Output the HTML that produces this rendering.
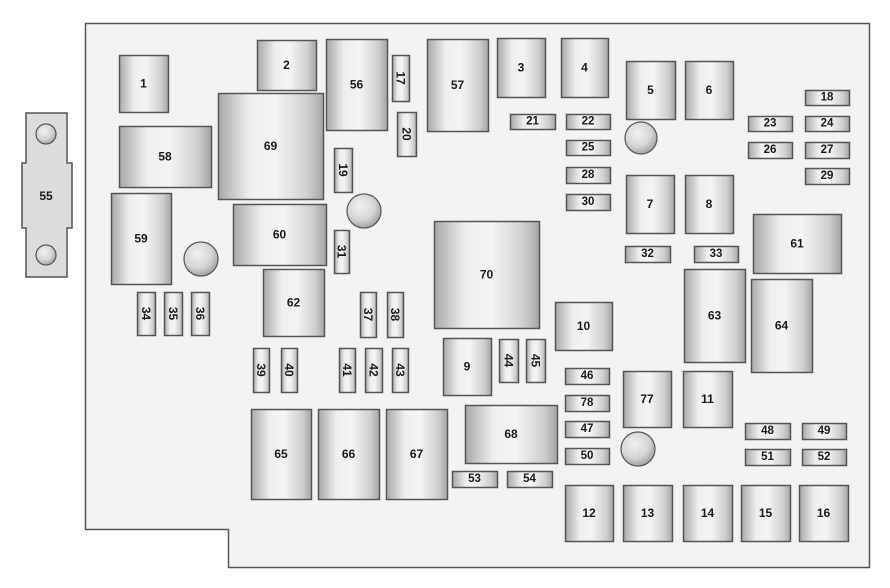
<!DOCTYPE html>
<html><head><meta charset="utf-8"><style>
html,body{margin:0;padding:0;background:#fff;}
svg{display:block;}
text{font-family:"Liberation Sans",sans-serif;font-weight:bold;font-size:12px;fill:#1a1a1a;}
</style></head><body>
<svg width="890" height="588" viewBox="0 0 890 588" xmlns="http://www.w3.org/2000/svg">
<defs>
<linearGradient id="g" x1="0" x2="1" y1="0" y2="0">
<stop offset="0" stop-color="#a9a9a9"/><stop offset="0.3" stop-color="#efefef"/><stop offset="0.55" stop-color="#f4f4f4"/><stop offset="0.85" stop-color="#cfcfcf"/><stop offset="1" stop-color="#a4a4a4"/>
</linearGradient>
<linearGradient id="gv" x1="0" x2="0" y1="0" y2="1">
<stop offset="0" stop-color="#a9a9a9"/><stop offset="0.3" stop-color="#efefef"/><stop offset="0.55" stop-color="#f4f4f4"/><stop offset="0.85" stop-color="#cfcfcf"/><stop offset="1" stop-color="#a4a4a4"/>
</linearGradient>
<radialGradient id="c" cx="0.4" cy="0.35" r="0.7">
<stop offset="0" stop-color="#f2f2f2"/><stop offset="0.6" stop-color="#d4d4d4"/><stop offset="1" stop-color="#9a9a9a"/>
</radialGradient>
</defs>
<path d="M85.5 23.5 H869.5 V567.5 H228.5 V529.5 H85.5 Z" fill="#f3f3f3" stroke="#555" stroke-width="1.5"/>
<!-- fuse 55 -->
<path d="M26 113 H67 V163 H72 V228 H67 V277 H26 V228 H22 V163 H26 Z" fill="#dcdcdc" stroke="#555" stroke-width="1.5"/>
<circle cx="46" cy="134" r="10" fill="url(#c)" stroke="#555" stroke-width="1.2"/>
<circle cx="46" cy="255" r="10" fill="url(#c)" stroke="#555" stroke-width="1.2"/>
<text x="46" y="200" text-anchor="middle">55</text>
<g stroke="#555" stroke-width="1.2" fill="url(#c)">
<circle cx="201" cy="259" r="17"/><circle cx="364" cy="211" r="17"/><circle cx="641" cy="138" r="16"/><circle cx="638" cy="449" r="17"/>
</g>
<g id="boxes"></g>
<script>
var R=[
[119,55,49,57,"1"],[119,126,92,61,"58"],[218,93,105,106,"69"],[111,193,60,91,"59"],[233,204,93,61,"60"],
[257,40,59,50,"2"],[326,39,61,91,"56"],[392,55,17,46,"17",1],[427,39,61,92,"57"],[497,38,48,59,"3"],
[510,114,45,15,"21"],[397,112,19,44,"20",1],[334,148,18,44,"19",1],[334,230,15,43,"31",1],
[561,38,47,59,"4"],[626,61,49,58,"5"],[685,61,48,58,"6"],[566,114,44,15,"22"],[566,140,44,15,"25"],
[566,167,44,16,"28"],[566,194,44,16,"30"],[805,90,44,15,"18"],[748,116,44,15,"23"],[805,116,44,15,"24"],
[748,142,44,16,"26"],[805,142,44,16,"27"],[805,168,44,16,"29"],[626,175,48,58,"7"],[685,175,48,58,"8"],
[625,246,45,16,"32"],[694,246,44,16,"33"],[753,214,88,59,"61"],
[137,292,18,43,"34",1],[164,292,18,43,"35",1],[191,292,18,43,"36",1],[263,269,61,67,"62"],
[360,292,16,45,"37",1],[387,292,16,45,"38",1],[253,348,16,44,"39",1],[281,348,16,44,"40",1],
[339,348,16,44,"41",1],[365,348,17,44,"42",1],[392,348,16,44,"43",1],
[251,409,60,90,"65"],[318,409,61,90,"66"],[386,409,61,90,"67"],
[434,221,105,107,"70"],[555,302,57,48,"10"],[443,338,48,57,"9"],[499,339,19,43,"44",1],[526,339,19,43,"45",1],
[565,368,44,16,"46"],[565,395,44,16,"78"],[565,421,44,16,"47"],[565,448,44,16,"50"],
[465,405,92,58,"68"],[452,471,45,16,"53"],[507,471,45,16,"54"],
[623,371,48,56,"77"],[683,371,49,56,"11"],[684,269,61,93,"63"],[751,279,61,93,"64"],
[745,423,45,16,"48"],[802,423,44,16,"49"],[745,449,45,16,"51"],[802,449,44,16,"52"],
[565,485,48,56,"12"],[623,485,49,56,"13"],[683,485,49,56,"14"],[741,485,49,56,"15"],[799,485,49,56,"16"]
];
var ns="http://www.w3.org/2000/svg",g=document.getElementById("boxes");
R.forEach(function(r){
 var e=document.createElementNS(ns,"rect");
 e.setAttribute("x",r[0]+.5);e.setAttribute("y",r[1]+.5);e.setAttribute("width",r[2]);e.setAttribute("height",r[3]);
 e.setAttribute("fill",r[5]?"url(#g)":"url(#g)");e.setAttribute("stroke","#555");e.setAttribute("stroke-width","1.5");
 g.appendChild(e);
 var t=document.createElementNS(ns,"text");var cx=r[0]+r[2]/2,cy=r[1]+r[3]/2;
 t.setAttribute("text-anchor","middle");t.setAttribute("dominant-baseline","central");
 t.setAttribute("x",cx);t.setAttribute("y",cy);
 if(r[5])t.setAttribute("transform","rotate(90 "+cx+" "+cy+")");
 if(r[3]<20)t.setAttribute("style","font-size:11.5px");
 t.textContent=r[4];g.appendChild(t);
});
</script>
</svg>
</body></html>
